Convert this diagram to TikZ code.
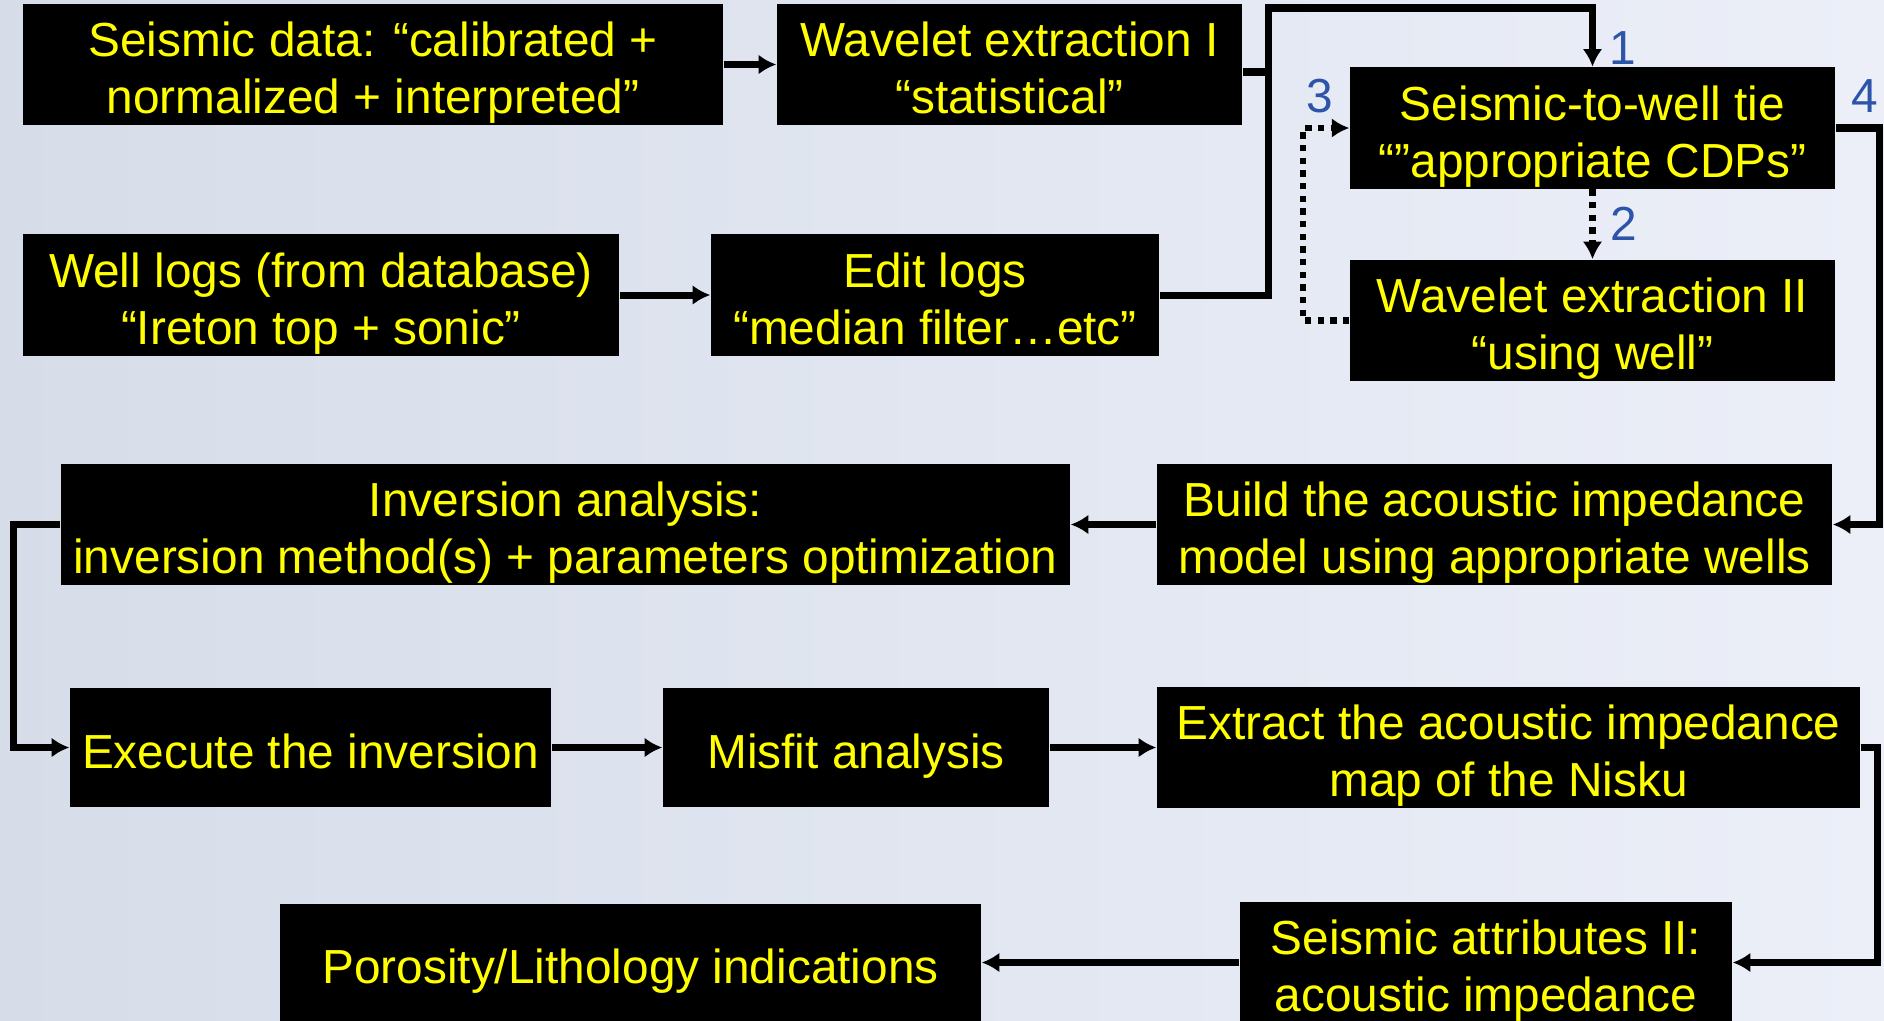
\documentclass[tikz,border=0pt]{standalone}
\usepackage{fontspec}
\setmainfont{Liberation Sans}
\usepackage{tikz}
\usetikzlibrary{arrows.meta}
\tikzset{>={Latex[length=5pt,width=5.6pt]}}
\definecolor{boxtext}{RGB}{255,255,0}
\definecolor{stepblue}{RGB}{44,84,168}
\definecolor{bgleft}{RGB}{214,221,233}
\definecolor{bgmid}{RGB}{224,230,243}
\definecolor{bgright}{RGB}{236,239,248}

\begin{document}
\begin{tikzpicture}[x=0.1mm,y=-0.1mm,
    blk/.style={fill=black,text=boxtext,inner sep=0pt,align=center,
      font=\fontsize{13.6}{16.2}\selectfont,text height=31.2pt,text depth=3.3pt},
    oneline/.style={text height=15pt},
    link/.style={line width=2pt,->},
    dots/.style={line width=1.8pt,dash pattern=on 1.8pt off 1.8pt,->},
    num/.style={text=stepblue,inner sep=0pt,font=\fontsize{13.6}{16.2}\selectfont}]
    \useasboundingbox (0,0) rectangle (1884,1020);
    \shade[left color=bgleft,middle color=bgmid,right color=bgright] (0,0) rectangle (1884,1020);

    % first row: data preparation
    \node[blk,minimum width=70mm,minimum height=11.7mm] (seis) at (373,64.5) {Seismic data: “calibrated +\\normalized + interpreted”};
    \node[blk,minimum width=46.5mm,minimum height=11.7mm] (wav1) at (1009.5,64.5) {Wavelet extraction I\\“statistical”};
    \node[blk,minimum width=59.6mm,minimum height=11.6mm] (logs) at (321,295) {Well logs (from database)\\“Ireton top + sonic”};
    \node[blk,minimum width=44.8mm,minimum height=11.6mm] (edit) at (935,295) {Edit logs\\“median filter…etc”};
    \node[blk,minimum width=48.5mm,minimum height=11.8mm] (tie) at (1592.5,128) {Seismic-to-well tie\\“”appropriate CDPs”};
    \node[blk,minimum width=48.5mm,minimum height=11.7mm] (wav2) at (1592.5,320.5) {Wavelet extraction II\\“using well”};

    % inversion
    \node[blk,minimum width=67.5mm,minimum height=11.9mm] (build) at (1494.5,524.5) {Build the acoustic impedance\\model using appropriate wells};
    \node[blk,minimum width=100.9mm,minimum height=11.9mm] (inv) at (565.5,524.5) {Inversion analysis:\\inversion method(s) + parameters optimization};
    \node[blk,oneline,minimum width=48.1mm,minimum height=11.9mm] (exec) at (310.5,747.5) {Execute the inversion};
    \node[blk,oneline,minimum width=38.6mm,minimum height=11.9mm] (misfit) at (856,747.5) {Misfit analysis};
    \node[blk,minimum width=70.3mm,minimum height=11.9mm] (extract) at (1508.5,747.5) {Extract the acoustic impedance\\map of the Nisku};

    % interpretation
    \node[blk,minimum width=49.2mm,minimum height=11.7mm] (attr) at (1486,962.5) {Seismic attributes II:\\acoustic impedance};
    \node[blk,oneline,minimum width=70.1mm,minimum height=11.7mm] (poros) at (630.5,962.5) {Porosity/Lithology indications};

    \coordinate (jn) at (1268,8);

    \draw[link] (seis.east) -- (wav1.west);
    \draw[link] (logs.east) -- (edit.west);
    \draw[line width=2pt] ([yshift=-0.75mm]wav1.east) -- ([yshift=-0.75mm]wav1.east -| jn);
    \draw[link] (edit.east) -| (jn) -| (tie.north);
    \draw[dots] (tie.south) -- (wav2.north);
    \draw[dots] (wav2.west) -- ++(-46,0) |- (tie.west);
    \draw[link] (tie.east) -- ++(44,0) |- (build.east);
    \draw[link] (build.west) -- (inv.east);
    \draw[link] (inv.west) -- ++(-47,0) |- (exec.west);
    \draw[link] (exec.east) -- (misfit.west);
    \draw[link] (misfit.east) -- (extract.west);
    \draw[link] (extract.east) -- ++(17,0) |- (attr.east);
    \draw[link] (attr.west) -- (poros.east);

    \foreach \n/\x/\y in {1/1623/48, 2/1624/224, 3/1320/96, 4/1865/96}
      \node[num] (n\n) at (\x,\y) {\n};
\end{tikzpicture}
\end{document}
